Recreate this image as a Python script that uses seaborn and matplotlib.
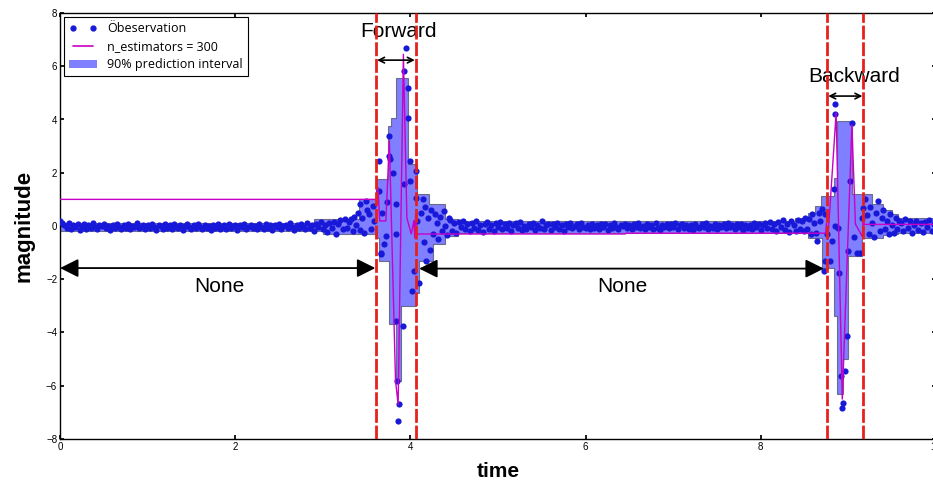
import numpy as np
import matplotlib
matplotlib.use("Agg")
import matplotlib.pyplot as plt
from matplotlib.lines import Line2D
from matplotlib.patches import Patch
import seaborn as sns

# quiet stretches, regularly sampled
quiet1_mag = [
    0.18, 0.12, 0.05, -0.08, 0.10, -0.12, 0.02, -0.05, 0.08, -0.15,
    -0.02, 0.06, -0.10, 0.03, -0.07, 0.11, -0.04, -0.13, 0.04, -0.01,
    0.07, -0.09, 0.00, -0.14, 0.05, -0.06, 0.09, -0.03, -0.11, 0.02,
    -0.08, 0.06, -0.12, 0.01, -0.05, 0.10, -0.07, -0.02, 0.04, -0.13,
    0.03, -0.09, 0.07, -0.04, -0.15, 0.05, -0.01, -0.10, 0.08, -0.06,
    0.02, -0.12, 0.06, -0.03, -0.08, 0.04, -0.14, 0.01, 0.07, -0.05,
    -0.11, 0.03, -0.07, 0.09, -0.02, -0.13, 0.05, -0.09, 0.00, -0.16,
    0.04, -0.06, 0.08, -0.10, -0.03, 0.02, -0.12, 0.06, -0.08, -0.01,
    0.05, -0.15, 0.03, -0.05, 0.07, -0.11, -0.02, 0.04, -0.09, 0.01,
    -0.13, 0.06, -0.04, -0.10, 0.09, -0.07, 0.02, -0.14, 0.05, -0.03,
    0.08, -0.12, -0.01, 0.04, -0.08, 0.10, -0.05, -0.16, 0.03, -0.09,
    0.07, -0.02, -0.11, 0.12, -0.06, 0.05, -0.18, 0.09, -0.04, 0.14,
    -0.10, 0.03, -0.21, 0.11, -0.07, 0.16, -0.30, 0.08, 0.21, -0.13, 0.25,
]
quiet1_time = np.linspace(0.0, 3.25, len(quiet1_mag))

quiet2_mag = [
    0.22, -0.18, 0.10, -0.25, 0.15, -0.05, 0.20, -0.12, 0.08, -0.20,
    0.12, -0.08, 0.18, -0.15, 0.04, -0.22, 0.09, 0.14, -0.10, 0.02,
    -0.17, 0.11, -0.04, 0.16, -0.13, 0.06, -0.09, 0.13, -0.19, 0.03,
    0.10, -0.06, 0.15, -0.14, 0.01, -0.11, 0.08, -0.02, 0.12, -0.16,
    0.05, -0.08, 0.17, -0.12, 0.02, 0.09, -0.15, 0.06, -0.04, 0.11,
    -0.10, 0.03, -0.18, 0.08, -0.05, 0.13, -0.09, 0.00, 0.07, -0.13,
    0.10, -0.03, -0.08, 0.05, -0.12, 0.09, -0.06, 0.02, -0.10, 0.06,
    -0.02, 0.08, -0.14, 0.04, -0.07, 0.11, -0.04, -0.11, 0.05, -0.01,
    0.07, -0.09, 0.03, -0.13, 0.06, -0.05, 0.10, -0.08, 0.01, -0.12,
    0.09, -0.03, 0.05, -0.10, 0.12, -0.06, -0.15, 0.04, -0.02, 0.08,
    -0.09, 0.06, -0.04, 0.11, -0.12, 0.02, 0.07, -0.07, 0.03, -0.11,
    0.05, -0.14, 0.09, -0.02, -0.08, 0.06, -0.05, 0.10, -0.10, 0.01,
    -0.06, 0.08, -0.12, 0.04, -0.03, 0.07, -0.09, 0.12, -0.05, 0.02,
    -0.11, 0.06, -0.02, 0.09, -0.14, 0.03, -0.07, 0.05, -0.10, 0.11,
    -0.04, 0.08, -0.16, 0.02, 0.10, -0.08, 0.14, -0.12, 0.06, -0.19,
    0.16, -0.05, 0.21, -0.14, 0.09, -0.22, 0.18, 0.02, -0.17, 0.24,
    -0.10,
]
quiet2_time = np.linspace(4.45, 8.45, len(quiet2_mag))

quiet3_mag = [0.12, -0.20, 0.25, -0.08, 0.18, -0.25, 0.05, 0.20, -0.15,
              0.10, -0.22, 0.15, -0.05, 0.22, -0.18, 0.08, -0.12]
quiet3_time = np.linspace(9.6, 10.0, len(quiet3_mag))

# forward event (with lead-in and tail)
burst1_time = [3.28, 3.30, 3.32, 3.34, 3.36, 3.38, 3.40, 3.42, 3.43, 3.45,
               3.47, 3.49, 3.51, 3.53, 3.55, 3.57, 3.59,
               3.64, 3.64, 3.66, 3.67, 3.68, 3.70, 3.72, 3.73, 3.76, 3.76,
               3.77, 3.80, 3.83, 3.83, 3.83, 3.85, 3.86, 3.87, 3.91, 3.93,
               3.93, 3.95, 3.97, 3.97, 3.99, 4.00, 4.02, 4.04, 4.06, 4.06,
               4.08, 4.10, 4.14, 4.18,
               4.12, 4.15, 4.17, 4.20, 4.22, 4.24, 4.26, 4.28, 4.30, 4.32,
               4.34, 4.36, 4.38, 4.40, 4.42, 4.44]
burst1_mag = [-0.06, 0.15, 0.25, -0.20, 0.35, 0.05, 0.50, -0.15, 0.81, 0.30,
              -0.25, 0.94, 0.60, 0.44, -0.10, 0.75, 0.20,
              2.44, 1.31, -1.00, -1.06, 0.50, -0.69, -0.38, 0.90, 3.38, 2.63,
              2.50, 2.00, 0.81, -0.31, -3.57, -5.82, -7.32, -6.70, -3.75, 5.82,
              1.56, 6.67, 5.19, 4.07, 2.44, 1.69, -2.44, -1.69, 2.07, 1.06,
              0.20, -2.13, 1.00, -1.31,
              0.50, -0.60, 0.70, 0.30, -0.90, 0.60, -0.30, 0.45, 0.10, -0.50,
              0.35, -0.20, 0.55, 0.00, -0.35, 0.30]

# backward event (with lead-in and tail)
burst2_time = [8.47, 8.49, 8.51, 8.53, 8.55, 8.57, 8.59, 8.61, 8.63, 8.64,
               8.66, 8.68, 8.70, 8.72, 8.73, 8.73, 8.75,
               8.79, 8.81, 8.84, 8.85, 8.85, 8.85, 8.88, 8.89, 8.91, 8.93,
               8.94, 8.96, 8.98, 9.00, 9.02, 9.04, 9.06, 9.10, 9.13, 9.15,
               9.17, 9.19,
               9.21, 9.23, 9.25, 9.27, 9.29, 9.31, 9.34, 9.36, 9.38, 9.40,
               9.42, 9.44, 9.46, 9.48, 9.50, 9.52, 9.54, 9.56, 9.58]
burst2_mag = [0.20, -0.20, 0.30, -0.10, 0.25, -0.30, 0.45, 0.10, -0.25, -0.56,
              0.50, 0.20, 0.63, -1.69, 0.44, -1.31, -0.30,
              -1.31, -0.56, 1.38, 4.57, 4.19, 0.00, -0.06, -1.75, -5.63, -6.82,
              -6.63, -5.45, -4.13, -0.94, 1.69, 3.88, -0.40, -1.00, -1.00, 0.31,
              0.69, 1.00,
              0.40, -0.30, 0.70, 0.10, -0.40, 0.50, 0.94, -0.20, 0.30, 0.60,
              -0.10, 0.20, -0.30, 0.45, 0.05, -0.25, 0.30, -0.10, 0.20]

# model prediction (n_estimators = 300)
pred_time = [0.0, 3.61, 3.63, 3.65, 3.72, 3.76, 3.83, 3.86, 3.92, 3.96,
             4.01, 4.04, 4.05, 4.06, 4.07, 4.08, 6.45, 6.46, 8.74, 8.75,
             8.76, 8.77, 8.86, 8.93, 9.04, 9.08, 9.16, 9.17, 9.18, 10.0]
pred_mag = [1.0, 1.0, 1.45, 0.19, 0.19, 3.2, -5.8, -6.7, 6.45, 0.3,
            -0.3, 0.2, -0.45, 0.45, -0.4, -0.3, -0.3, -0.27, -0.27, 0.1,
            -0.5, -0.27, 4.25, -6.5, 3.8, 0.07, -0.4, 0.4, 0.06, 0.06]

# 90% prediction interval (step edges)
band_time = [0.00, 2.90, 3.00, 3.41, 3.61, 3.64, 3.74, 3.76, 3.78, 3.83,
             3.84, 3.89, 3.97, 4.06, 4.08, 4.10, 4.21, 4.26, 4.39, 4.40,
             4.54, 8.39, 8.54, 8.62, 8.69, 8.70, 8.83, 8.87, 8.94, 9.00,
             9.04, 9.15, 9.27, 9.40, 9.50, 9.57, 10.0]
band_hi = [0.12, 0.26, 0.26, 1.00, 1.75, 1.75, 3.75, 3.75, 4.07, 4.07,
           5.57, 5.57, 2.33, 2.33, 1.20, 1.20, 0.83, 0.83, 0.50, 0.26,
           0.17, 0.31, 0.50, 0.75, 1.13, 1.13, 1.81, 3.94, 3.94, 3.94,
           1.19, 1.19, 0.81, 0.60, 0.45, 0.31, 0.31]
band_lo = [-0.19, -0.19, -0.30, -0.30, -0.44, -1.31, -1.31, -3.68, -3.68, -5.82,
           -5.82, -3.00, -3.00, -2.50, -2.50, -1.31, -1.31, -0.68, -0.68, -0.38,
           -0.25, -0.25, -0.44, -0.44, -0.44, -1.56, -3.38, -6.30, -5.00, -1.13,
           -1.13, -0.44, -0.44, -0.35, -0.30, -0.28, -0.28]

event_bounds = [3.61, 4.06, 8.76, 9.17]

obs_time = np.concatenate([quiet1_time, burst1_time, quiet2_time, burst2_time, quiet3_time])
obs_mag = np.concatenate([quiet1_mag, burst1_mag, quiet2_mag, burst2_mag, quiet3_mag])

DOT = "#1818d8"
LINE = "#c800c8"
BAND = "#0000ff"

sns.set_theme(style="ticks", rc={
    "xtick.direction": "in", "ytick.direction": "in",
    "xtick.top": True, "ytick.right": True,
    "xtick.major.size": 3, "ytick.major.size": 3,
    "axes.edgecolor": "black", "axes.linewidth": 1.0,
    "text.color": "black", "axes.labelcolor": "black",
    "xtick.color": "black", "ytick.color": "black",
})
plt.rcParams["font.family"] = ["Liberation Sans", "DejaVu Sans"]

fig = plt.figure(figsize=(9.33, 4.86), dpi=100)
ax = fig.add_axes([60 / 933, 47 / 486, 876 / 933, 426 / 486])

ax.fill_between(band_time, band_lo, band_hi, step="post", facecolor=BAND, alpha=0.5,
                edgecolor="k", linewidth=0.8, zorder=2)
sns.scatterplot(x=obs_time, y=obs_mag, color=DOT, s=20, linewidth=0, ax=ax, zorder=3)
sns.lineplot(x=pred_time, y=pred_mag, sort=False, estimator=None, color=LINE, lw=1.0, ax=ax, zorder=4)

for xb in event_bounds:
    ax.axvline(xb, color="#e8201c", lw=2, linestyle=(0, (5, 1)), zorder=5)

big = dict(arrowstyle="<|-|>", color="black", lw=1.3, mutation_scale=28, shrinkA=0, shrinkB=0)
small = dict(arrowstyle="<->", color="black", lw=1.2, mutation_scale=10, shrinkA=0, shrinkB=0)
ax.annotate("", xy=(0.0, -1.58), xytext=(3.60, -1.58), arrowprops=big, zorder=6)
ax.annotate("", xy=(4.10, -1.6), xytext=(8.72, -1.6), arrowprops=big, zorder=6)
ax.annotate("", xy=(3.62, 6.23), xytext=(4.05, 6.23), arrowprops=small, zorder=6)
ax.annotate("", xy=(8.77, 4.88), xytext=(9.16, 4.88), arrowprops=small, zorder=6)

ax.text(1.82, -2.28, "None", ha="center", va="center", fontsize=15)
ax.text(6.42, -2.28, "None", ha="center", va="center", fontsize=15)
ax.text(3.86, 7.32, "Forward", ha="center", va="center", fontsize=15)
ax.text(9.06, 5.63, "Backward", ha="center", va="center", fontsize=15)

ax.set_xlim(0, 10)
ax.set_ylim(-8, 8)
ax.set_xticks([0, 2, 4, 6, 8, 10])
ax.set_yticks([-8, -6, -4, -2, 0, 2, 4, 6, 8])
ax.tick_params(labelsize=7, pad=2)
ax.set_xlabel("time", fontsize=15, fontweight="bold", labelpad=7)
ax.set_ylabel("magnitude", fontsize=16, fontweight="bold", labelpad=8)

handles = [
    Line2D([], [], color=DOT, marker=".", linestyle="none", markersize=7),
    Line2D([], [], color=LINE, lw=1.2),
    Patch(facecolor=BAND, alpha=0.5, edgecolor="none"),
]
leg = ax.legend(handles, ["Öbeservation", "n_estimators = 300", "90% prediction interval"],
                loc="upper left", numpoints=2, fancybox=False, framealpha=1,
                edgecolor="black", borderaxespad=0.35, handlelength=2.2,
                prop={"family": ["Open Sans", "DejaVu Sans"], "size": 9},
                labelspacing=0.4, borderpad=0.4)
leg.get_frame().set_linewidth(0.8)
leg.set_zorder(10)

fig.savefig("out.png", dpi=100)
